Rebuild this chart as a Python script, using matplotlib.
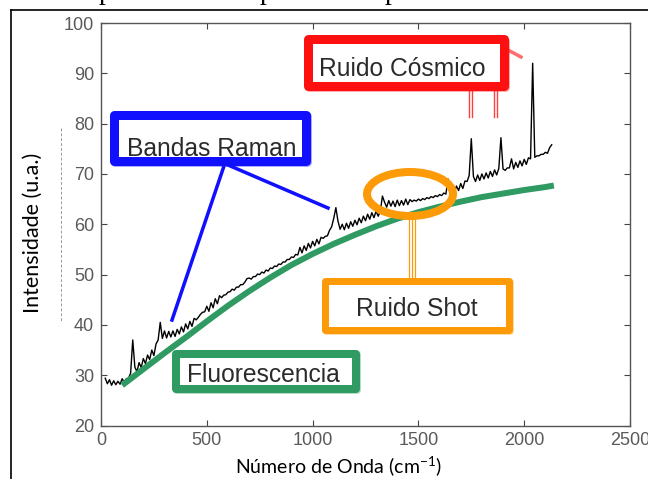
import numpy as np
import matplotlib
matplotlib.use("Agg")
import matplotlib.pyplot as plt
from matplotlib.patches import Rectangle, Ellipse
from matplotlib.lines import Line2D

# espectro medido, un punto cada 10 cm-1 (20 ... 2130)
wavenumber = np.arange(20, 2131, 10)
intensity = [
    29.4, 28.3, 29.1, 28.0, 28.9, 28.1, 28.8, 28.2, 29.3, 28.6,
    29.3, 29.4, 30.4, 37.0, 31.6, 30.7, 32.5, 31.5, 33.3, 32.3,
    34.0, 33.1, 35.0, 33.9, 36.2, 37.0, 40.5, 37.3, 38.8, 37.4,
    38.7, 37.6, 38.8, 37.7, 39.1, 38.2, 39.6, 38.6, 40.2, 39.2,
    40.7, 39.7, 41.3, 41.0, 41.5, 42.1, 42.5, 42.6, 43.7, 42.7,
    44.4, 43.4, 45.2, 44.2, 45.8, 45.4, 45.9, 46.0, 46.5, 46.6,
    47.1, 46.9, 47.5, 47.5, 48.0, 48.0, 48.5, 49.2, 49.3, 49.1,
    49.6, 49.6, 50.1, 50.0, 50.5, 50.3, 50.9, 50.7, 51.3, 51.2,
    51.7, 51.6, 52.1, 52.0, 52.5, 52.5, 53.0, 53.0, 53.5, 53.4,
    54.0, 53.9, 55.4, 54.3, 55.7, 54.8, 56.2, 55.3, 56.6, 55.7,
    57.0, 56.1, 57.4, 57.2, 57.6, 57.7, 58.8, 59.5, 61.2, 63.3,
    60.6, 59.0, 60.0, 58.9, 60.2, 59.2, 60.5, 59.6, 60.8, 59.9,
    61.2, 60.3, 61.6, 60.7, 62.0, 61.0, 62.3, 61.3, 62.6, 61.6,
    62.6, 65.6, 64.4, 63.4, 64.7, 63.6, 64.6, 63.5, 64.8, 63.7,
    64.7, 63.8, 65.0, 63.9, 64.9, 64.5, 64.8, 64.6, 65.0, 64.7,
    65.1, 64.9, 65.3, 65.1, 65.5, 65.3, 65.7, 65.5, 65.9, 65.7,
    66.2, 66.0, 69.0, 66.1, 67.3, 66.3, 67.6, 66.7, 68.1, 67.1,
    68.6, 68.5, 69.7, 77.0, 69.5, 68.5, 69.8, 68.7, 70.0, 69.0,
    70.2, 69.2, 70.5, 69.5, 70.8, 69.8, 71.1, 77.2, 71.0, 70.7,
    71.2, 71.2, 73.0, 71.0, 72.3, 71.3, 72.6, 71.6, 72.9, 71.9,
    73.2, 73.0, 92.0, 73.3, 73.6, 73.6, 73.9, 73.9, 74.3, 74.1,
    75.2, 75.8,
]

# linea base de fluorescencia
fluo_x = [100, 200, 300, 400, 500, 600, 700, 800, 900, 1000, 1100,
          1200, 1300, 1400, 1500, 1600, 1700, 1800, 1900, 2000, 2100, 2140]
fluo_y = [28.0, 31.2, 34.4, 37.5, 40.7, 43.8, 46.7, 49.4, 51.9, 54.1, 56.1,
          57.9, 59.6, 61.1, 62.4, 63.5, 64.5, 65.4, 66.1, 66.8, 67.4, 67.7]

xticks = [0, 500, 1000, 1500, 2000, 2500]
yticks = [20, 30, 40, 50, 60, 70, 80, 90, 100]

W, H = 648, 479
RED = "#ff1010"
BLUE = "#1010ff"
ORANGE = "#fd9a08"
GREEN = "#2f9a62"
TXT = "#2b2b2b"


def fx(px):
    return px / W


def fy(py):
    return 1 - py / H


def pt(px):
    return px * 0.72


fig = plt.figure(figsize=(W / 100, H / 100), dpi=100)
ax = fig.add_axes([fx(101), fy(425.5), 529 / W, 402.5 / H])

ax.plot(wavenumber, intensity, color="black", lw=1.0, zorder=2)
ax.plot(fluo_x, fluo_y, color=GREEN, lw=pt(6), solid_capstyle="butt", zorder=3)

ax.set_xlim(0, 2500)
ax.set_ylim(20, 100)
ax.set_xticks(xticks)
ax.set_yticks(yticks)
ax.tick_params(direction="in", length=4, width=0.8, top=True, right=True,
               labelsize=13, labelcolor="#5a5a5a", color="#444444", pad=5)
for tl in ax.get_xticklabels() + ax.get_yticklabels():
    tl.set_family("Liberation Sans")
for s in ax.spines.values():
    s.set_color("#555555")
    s.set_linewidth(1)

fig.text(fx(339), fy(474), r"Número de Onda (cm$^{\mathregular{-1}}$)", ha="center",
         va="baseline", fontsize=14, family="Lato", color="black")
fig.text(fx(33), fy(233), "Intensidade (u.a.)", ha="center", va="center",
         rotation=90, fontsize=15.5, family="Lato", color="black")

# marco de la pagina y linea punteada
fig.add_artist(Line2D([fx(11), fx(11)], [fy(10), fy(479)], color="black", lw=1.2))
fig.add_artist(Line2D([fx(11), fx(648)], [fy(10), fy(10)], color="black", lw=1.2))
fig.add_artist(Line2D([fx(61), fx(61)], [fy(128), fy(322)], color="#999999",
                      lw=0.7, ls=(0, (3, 2))))
# restos de la linea de texto de arriba (cortada)
for px in [99, 260, 385]:
    fig.text(fx(px), fy(-1), "p", ha="left", va="baseline", fontsize=20,
             family="Liberation Serif", color="black")


def box(x0, y0, x1, y1, color, lw, label, tx, ty):
    fig.add_artist(Rectangle((fx(x0) + 0.002, fy(y1) - 0.003), fx(x1) - fx(x0), fy(y0) - fy(y1),
                             transform=fig.transFigure, facecolor="none", edgecolor=color,
                             lw=pt(lw), alpha=0.35, joinstyle="round", zorder=5))
    fig.add_artist(Rectangle((fx(x0), fy(y1)), fx(x1) - fx(x0), fy(y0) - fy(y1),
                             transform=fig.transFigure, facecolor="white", edgecolor=color,
                             lw=pt(lw), joinstyle="round", zorder=6))
    fig.text(fx(tx), fy(ty), label, ha="center", va="baseline", fontsize=17.7,
             family="Liberation Sans", color=TXT, zorder=7)


# Ruido cosmico
for px in [469, 472, 494, 497]:
    fig.add_artist(Line2D([fx(px), fx(px)], [fy(88), fy(117)], color=RED, lw=1, alpha=0.8))
fig.add_artist(Line2D([fx(508), fx(521)], [fy(50), fy(57)], color=RED, lw=2.5, alpha=0.6))
box(307.5, 39.5, 503.5, 85.5, RED, 9, "Ruido Cósmico", 402, 76.5)

# Bandas Raman
fig.add_artist(Line2D([fx(225), fx(172)], [fy(163), fy(320)], color=BLUE, lw=pt(3.5), zorder=4))
fig.add_artist(Line2D([fx(228), fx(328)], [fy(165), fy(208)], color=BLUE, lw=pt(3.5), zorder=4))
box(114, 115, 306, 161, BLUE, 9, "Bandas Raman", 212, 156.5)

# Ruido shot
fig.add_artist(Ellipse((fx(410), fy(194)), 86 / W, 44 / H, transform=fig.transFigure,
                       fill=False, edgecolor=ORANGE, lw=pt(8), zorder=5))
for px in [409, 412, 415]:
    fig.add_artist(Line2D([fx(px), fx(px)], [fy(216), fy(278)], color=ORANGE, lw=0.9))
box(325, 280.5, 509, 330, ORANGE, 7, "Ruido Shot", 416.5, 316)

# Fluorescencia
box(176, 354, 356, 388.5, GREEN, 8, "Fluorescencia", 263.5, 381.5)

fig.savefig("out.png", dpi=100)
